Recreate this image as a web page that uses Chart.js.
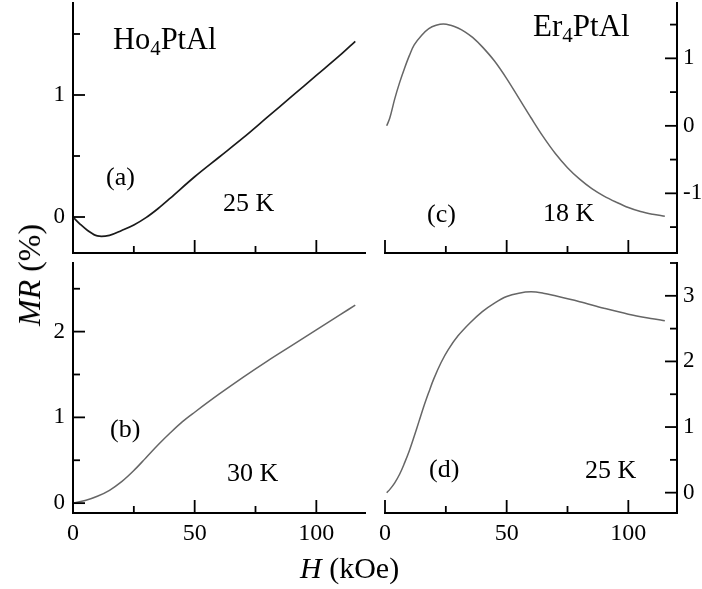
<!DOCTYPE html>
<html>
<head>
<meta charset="utf-8">
<script src="https://cdn.jsdelivr.net/npm/chart.js@4/dist/chart.umd.min.js"></script>
<style>
  html, body { margin: 0; padding: 0; background: #fff; }
  #wrap { position: relative; width: 702px; height: 589px; background: #fff; overflow: hidden; }
  #wrap canvas { position: absolute; left: 0; top: 0; }
  .t { position: absolute; font-family: 'Liberation Serif', 'Times New Roman', serif; color: #000; line-height: 1; white-space: nowrap; }
  .t sub { font-size: 0.68em; vertical-align: -0.28em; line-height: 0; }
</style>
</head>
<body>
<div id="wrap">
  <canvas id="ca" width="702" height="589"></canvas>
  <canvas id="cb" width="702" height="589"></canvas>
  <canvas id="cc" width="702" height="589"></canvas>
  <canvas id="cd" width="702" height="589"></canvas>

  <div class="t" style="left:113px; top:24px; font-size:30.5px;">Ho<sub>4</sub>PtAl</div>
  <div class="t" style="left:533px; top:10px; font-size:31px;">Er<sub>4</sub>PtAl</div>
  <div class="t" style="left:106px; top:164px; font-size:26px;">(a)</div>
  <div class="t" style="left:223px; top:190px; font-size:26px;">25 K</div>
  <div class="t" style="left:427px; top:201px; font-size:26px;">(c)</div>
  <div class="t" style="left:543px; top:200px; font-size:26px;">18 K</div>
  <div class="t" style="left:110px; top:416px; font-size:26px;">(b)</div>
  <div class="t" style="left:227px; top:460px; font-size:26px;">30 K</div>
  <div class="t" style="left:429px; top:456px; font-size:26px;">(d)</div>
  <div class="t" style="left:585px; top:457px; font-size:26px;">25 K</div>

  <div class="t" style="left:300px; top:553px; font-size:30px;"><i>H</i> (kOe)</div>
  <div class="t" id="ytitle" style="left:29px; top:275px; font-size:32px; transform: translate(-50%, -50%) rotate(-90deg);"><i>MR</i> (%)</div>
</div>

<script>
// ---------------- Data ----------------
// Field H (kOe) and magnetoresistance MR (%)
const hoH25  = [0, 3, 6, 10, 15, 20, 25, 30, 35, 40, 50, 60, 70, 80, 90, 100, 110, 116];
const hoMR25 = [0, -0.06, -0.11, -0.155, -0.15, -0.11, -0.065, -0.005, 0.07, 0.155, 0.33, 0.49, 0.65, 0.82, 0.99, 1.16, 1.33, 1.44];

const hoH30  = [0, 5, 10, 15, 20, 25, 30, 35, 40, 45, 50, 60, 70, 80, 90, 100, 110, 116];
const hoMR30 = [0, 0.03, 0.08, 0.15, 0.25, 0.38, 0.53, 0.68, 0.82, 0.95, 1.06, 1.27, 1.47, 1.66, 1.84, 2.02, 2.20, 2.31];

const erH18  = [0.7, 2, 4, 6, 8, 10, 12, 15, 18, 21, 24, 27, 30, 33, 36, 40, 45, 50, 55, 60, 65, 70, 75, 80, 85, 90, 95, 100, 105, 110, 115];
const erMR18 = [0, 0.12, 0.40, 0.64, 0.85, 1.04, 1.20, 1.34, 1.44, 1.49, 1.51, 1.49, 1.45, 1.39, 1.31, 1.17, 0.96, 0.70, 0.41, 0.12, -0.16, -0.41, -0.62, -0.79, -0.93, -1.04, -1.13, -1.21, -1.27, -1.31, -1.34];

const erH25  = [0.7, 2, 4, 6, 8, 10, 12, 14, 16, 18, 20, 23, 26, 30, 35, 40, 45, 50, 55, 60, 65, 70, 80, 90, 100, 110, 115];
const erMR25 = [0, 0.05, 0.15, 0.28, 0.45, 0.64, 0.86, 1.09, 1.32, 1.53, 1.73, 1.98, 2.18, 2.39, 2.59, 2.76, 2.89, 2.99, 3.04, 3.06, 3.04, 3.00, 2.91, 2.81, 2.72, 2.65, 2.62];

// Axis settings
const xMin = 0, xMax = 120, xStep = 25, xLabelEvery = 50;
const yStep = 0.5;
const yRangeA = [-0.295, 1.754];
const yRangeB = [-0.115, 2.80];
const yRangeC = [-1.884, 1.82];
const yRangeD = [-0.31, 3.50];

const FONT = "'Liberation Serif', 'Times New Roman', serif";

// Inward tick marks drawn from the library's scales
const innerTicks = {
  id: 'innerTicks',
  afterDraw(chart) {
    const ctx = chart.ctx, a = chart.chartArea;
    const xs = chart.scales.x, ys = chart.scales.y;
    ctx.save();
    ctx.strokeStyle = '#000';
    ctx.lineWidth = 1.8;
    xs.ticks.forEach(t => {
      const px = xs.getPixelForValue(t.value);
      const len = (Math.abs(t.value % xLabelEvery) < 1e-6) ? 13 : 7;
      ctx.beginPath(); ctx.moveTo(px, a.bottom); ctx.lineTo(px, a.bottom - len); ctx.stroke();
    });
    const right = ys.position === 'right';
    const x0 = right ? a.right : a.left;
    const dir = right ? -1 : 1;
    ys.ticks.forEach(t => {
      const py = ys.getPixelForValue(t.value);
      const major = Math.abs(t.value - Math.round(t.value)) < 1e-6;
      const len = major ? 12 : 7;
      ctx.beginPath(); ctx.moveTo(x0, py); ctx.lineTo(x0 + dir * len, py); ctx.stroke();
    });
    ctx.restore();
  }
};

function makePanel(id, H, MR, color, lw, yRange, opts) {
  const pts = H.map((h, i) => ({ x: h, y: MR[i] }));
  new Chart(document.getElementById(id), {
    type: 'scatter',
    data: { datasets: [{ data: pts, showLine: true, borderColor: color, borderWidth: lw,
      pointRadius: 0, tension: 0.35, fill: false }] },
    options: {
      responsive: false, animation: false, events: [],
      layout: { padding: opts.padding },
      plugins: { legend: { display: false }, tooltip: { enabled: false } },
      scales: {
        x: {
          type: 'linear', position: 'bottom', min: xMin, max: xMax,
          grid: { display: false, drawTicks: false, tickLength: 0 },
          border: { display: true, color: '#000', width: 2 },
          ticks: {
            display: opts.xLabels, stepSize: xStep, includeBounds: false, autoSkip: false,
            maxRotation: 0, minRotation: 0, padding: 6, color: '#000',
            font: { family: FONT, size: 24 },
            callback: v => (Math.abs(v % xLabelEvery) < 1e-6 ? String(v) : '')
          },
          afterFit: s => { s.height = opts.xH; s.paddingLeft = 0; s.paddingRight = 0; }
        },
        y: {
          type: 'linear', position: opts.yPos, min: yRange[0], max: yRange[1],
          grid: { display: false, drawTicks: false, tickLength: 0 },
          border: { display: true, color: '#000', width: 2 },
          ticks: {
            stepSize: yStep, includeBounds: false, autoSkip: false, color: '#000',
            padding: opts.yPos === 'left' ? 8 : 6,
            font: { family: FONT, size: 23 },
            callback: v => (Math.abs(v - Math.round(v)) < 1e-6 ? String(Math.round(v)) : '')
          },
          afterFit: s => { s.width = opts.yW; s.paddingTop = 0; s.paddingBottom = 0; }
        }
      }
    },
    plugins: [innerTicks]
  });
}

// Chart areas: (a) 73-365 x 3-253, (b) 73-365 x 263-513, (c) 385-677 x 3-253, (d) 385-677 x 263-513
makePanel('ca', hoH25, hoMR25, '#1a1a1a', 1.7, yRangeA,
  { padding: { left: 13, right: 337, top: 3, bottom: 296 }, yPos: 'left', yW: 60, xH: 40, xLabels: false });
makePanel('cb', hoH30, hoMR30, '#666', 1.5, yRangeB,
  { padding: { left: 13, right: 337, top: 263, bottom: 26 }, yPos: 'left', yW: 60, xH: 50, xLabels: true });
makePanel('cc', erH18, erMR18, '#666', 1.5, yRangeC,
  { padding: { left: 385, right: 0, top: 3, bottom: 296 }, yPos: 'right', yW: 25, xH: 40, xLabels: false });
makePanel('cd', erH25, erMR25, '#666', 1.5, yRangeD,
  { padding: { left: 385, right: 0, top: 263, bottom: 26 }, yPos: 'right', yW: 25, xH: 50, xLabels: true });
</script>
</body>
</html>
